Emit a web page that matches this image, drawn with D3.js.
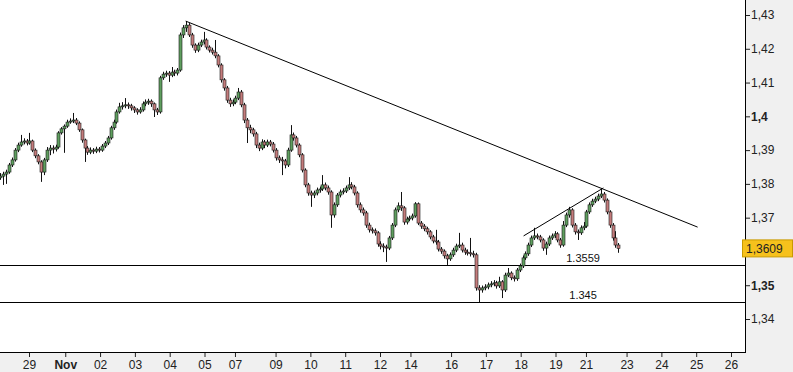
<!DOCTYPE html>
<html>
<head>
<meta charset="utf-8">
<script src="https://cdn.jsdelivr.net/npm/d3@7"></script>
<style>
  body { margin: 0; background: #fff; }
  svg { display: block; font-family: "Liberation Sans", Arial, sans-serif; }
</style>
</head>
<body>
<div id="chart"></div>
<script>
// 2-hour EUR/USD candles, time counted in trading hours (weekends collapsed)
const firstHour = 4
const firstOpen = 1.3818

const closes = [
  1.3823, 1.3829, 1.3835, 1.3856, 1.3871, 1.3900, 1.3915, 1.3924, 1.3927, 1.3921,
  1.3927, 1.3900, 1.3883, 1.3865, 1.3835, 1.3871, 1.3900, 1.3906, 1.3903, 1.3909,
  1.3951, 1.3963, 1.3971, 1.3983, 1.3986, 1.3989, 1.3980, 1.3960, 1.3930, 1.3906,
  1.3894, 1.3900, 1.3897, 1.3903, 1.3900, 1.3912, 1.3921, 1.3936, 1.3966, 1.3983,
  1.4013, 1.4028, 1.4031, 1.4034, 1.4031, 1.4025, 1.4019, 1.4013, 1.4019, 1.4037,
  1.4042, 1.4045, 1.4037, 1.4019, 1.4013, 1.4114, 1.4125, 1.4128, 1.4122, 1.4131,
  1.4128, 1.4137, 1.4241, 1.4262, 1.4270, 1.4241, 1.4211, 1.4196, 1.4211, 1.4220,
  1.4226, 1.4205, 1.4196, 1.4190, 1.4179, 1.4152, 1.4108, 1.4084, 1.4048, 1.4037,
  1.4042, 1.4054, 1.4072, 1.4034, 1.3989, 1.3966, 1.3960, 1.3948, 1.3915, 1.3906,
  1.3924, 1.3915, 1.3924, 1.3918, 1.3900, 1.3877, 1.3871, 1.3868, 1.3856, 1.3900,
  1.3945, 1.3936, 1.3915, 1.3886, 1.3841, 1.3797, 1.3773, 1.3767, 1.3773, 1.3782,
  1.3785, 1.3797, 1.3788, 1.3776, 1.3708, 1.3738, 1.3767, 1.3776, 1.3779, 1.3788,
  1.3797, 1.3791, 1.3773, 1.3738, 1.3723, 1.3714, 1.3678, 1.3664, 1.3661, 1.3655,
  1.3622, 1.3616, 1.3613, 1.3610, 1.3640, 1.3678, 1.3723, 1.3735, 1.3729, 1.3687,
  1.3696, 1.3699, 1.3705, 1.3741, 1.3684, 1.3675, 1.3667, 1.3658, 1.3643, 1.3631,
  1.3628, 1.3607, 1.3601, 1.3587, 1.3578, 1.3590, 1.3604, 1.3616, 1.3619, 1.3604,
  1.3598, 1.3596, 1.3593, 1.3590, 1.3492, 1.3486, 1.3492, 1.3495, 1.3501, 1.3504,
  1.3507, 1.3498, 1.3510, 1.3486, 1.3530, 1.3536, 1.3522, 1.3519, 1.3545, 1.3557,
  1.3581, 1.3593, 1.3619, 1.3640, 1.3646, 1.3643, 1.3634, 1.3610, 1.3622, 1.3640,
  1.3646, 1.3652, 1.3634, 1.3619, 1.3678, 1.3708, 1.3723, 1.3678, 1.3658, 1.3655,
  1.3670, 1.3675, 1.3717, 1.3738, 1.3749, 1.3755, 1.3764, 1.3770, 1.3752, 1.3717,
  1.3678, 1.3640, 1.3619, 1.3609
]

const highs = [
  1.3832, 1.3836, 1.3842, 1.3862, 1.3878, 1.3906, 1.3922, 1.3945, 1.3935, 1.3933,
  1.3951, 1.3931, 1.3905, 1.3888, 1.3870, 1.3877, 1.3909, 1.3915, 1.3914, 1.3916,
  1.3956, 1.3968, 1.3976, 1.3990, 1.3994, 1.4010, 1.3995, 1.3985, 1.3964, 1.3934,
  1.3912, 1.3908, 1.3906, 1.3910, 1.3909, 1.3918, 1.3927, 1.3942, 1.3972, 1.3990,
  1.4020, 1.4040, 1.4042, 1.4054, 1.4041, 1.4037, 1.4030, 1.4024, 1.4027, 1.4044,
  1.4050, 1.4052, 1.4050, 1.4041, 1.4025, 1.4120, 1.4132, 1.4135, 1.4134, 1.4146,
  1.4138, 1.4143, 1.4248, 1.4270, 1.4282, 1.4276, 1.4247, 1.4216, 1.4218, 1.4227,
  1.4250, 1.4231, 1.4210, 1.4203, 1.4226, 1.4184, 1.4157, 1.4113, 1.4090, 1.4055,
  1.4050, 1.4061, 1.4084, 1.4078, 1.4040, 1.3995, 1.3975, 1.3966, 1.3954, 1.3922,
  1.3932, 1.3930, 1.3931, 1.3930, 1.3924, 1.3906, 1.3884, 1.3880, 1.3874, 1.3907,
  1.3974, 1.3952, 1.3942, 1.3920, 1.3891, 1.3846, 1.3803, 1.3780, 1.3780, 1.3789,
  1.3792, 1.3826, 1.3804, 1.3795, 1.3781, 1.3745, 1.3773, 1.3783, 1.3787, 1.3795,
  1.3820, 1.3805, 1.3797, 1.3778, 1.3745, 1.3730, 1.3720, 1.3685, 1.3671, 1.3668,
  1.3660, 1.3630, 1.3624, 1.3620, 1.3646, 1.3684, 1.3730, 1.3745, 1.3776, 1.3734,
  1.3703, 1.3706, 1.3712, 1.3746, 1.3745, 1.3690, 1.3681, 1.3673, 1.3663, 1.3649,
  1.3664, 1.3634, 1.3613, 1.3606, 1.3593, 1.3597, 1.3611, 1.3623, 1.3655, 1.3626,
  1.3611, 1.3606, 1.3640, 1.3602, 1.3596, 1.3500, 1.3499, 1.3503, 1.3508, 1.3512,
  1.3515, 1.3513, 1.3525, 1.3515, 1.3537, 1.3551, 1.3541, 1.3529, 1.3551, 1.3564,
  1.3588, 1.3600, 1.3626, 1.3647, 1.3670, 1.3653, 1.3649, 1.3639, 1.3629, 1.3647,
  1.3653, 1.3660, 1.3657, 1.3640, 1.3690, 1.3715, 1.3732, 1.3728, 1.3684, 1.3665,
  1.3677, 1.3687, 1.3723, 1.3745, 1.3756, 1.3762, 1.3771, 1.3788, 1.3776, 1.3757,
  1.3722, 1.3684, 1.3660, 1.3625
]

const lows = [
  1.3812, 1.3797, 1.3800, 1.3830, 1.3850, 1.3866, 1.3894, 1.3910, 1.3917, 1.3914,
  1.3916, 1.3894, 1.3876, 1.3858, 1.3806, 1.3826, 1.3865, 1.3885, 1.3890, 1.3896,
  1.3904, 1.3946, 1.3892, 1.3966, 1.3978, 1.3980, 1.3974, 1.3954, 1.3922, 1.3865,
  1.3886, 1.3888, 1.3889, 1.3891, 1.3893, 1.3895, 1.3906, 1.3915, 1.3931, 1.3960,
  1.3978, 1.4008, 1.4020, 1.4024, 1.4022, 1.4017, 1.4010, 1.4005, 1.4008, 1.4014,
  1.4030, 1.4034, 1.4028, 1.3998, 1.4004, 1.4008, 1.4108, 1.4117, 1.4102, 1.4116,
  1.4119, 1.4121, 1.4132, 1.4232, 1.4250, 1.4235, 1.4203, 1.4188, 1.4190, 1.4205,
  1.4213, 1.4198, 1.4189, 1.4183, 1.4172, 1.4145, 1.4100, 1.4076, 1.4040, 1.4028,
  1.4030, 1.4036, 1.4048, 1.4027, 1.3980, 1.3921, 1.3950, 1.3940, 1.3906, 1.3897,
  1.3900, 1.3906, 1.3909, 1.3911, 1.3893, 1.3869, 1.3862, 1.3826, 1.3846, 1.3850,
  1.3895, 1.3928, 1.3908, 1.3879, 1.3834, 1.3790, 1.3765, 1.3732, 1.3758, 1.3766,
  1.3774, 1.3779, 1.3781, 1.3768, 1.3670, 1.3700, 1.3732, 1.3760, 1.3769, 1.3773,
  1.3782, 1.3784, 1.3766, 1.3730, 1.3715, 1.3706, 1.3670, 1.3656, 1.3653, 1.3647,
  1.3614, 1.3606, 1.3598, 1.3569, 1.3604, 1.3634, 1.3672, 1.3716, 1.3720, 1.3679,
  1.3680, 1.3690, 1.3692, 1.3700, 1.3678, 1.3667, 1.3660, 1.3650, 1.3636, 1.3624,
  1.3620, 1.3600, 1.3593, 1.3579, 1.3560, 1.3572, 1.3584, 1.3598, 1.3610, 1.3597,
  1.3590, 1.3588, 1.3585, 1.3582, 1.3484, 1.3450, 1.3478, 1.3485, 1.3488, 1.3494,
  1.3497, 1.3490, 1.3492, 1.3462, 1.3480, 1.3524, 1.3515, 1.3511, 1.3513, 1.3539,
  1.3551, 1.3575, 1.3587, 1.3613, 1.3634, 1.3636, 1.3627, 1.3602, 1.3590, 1.3616,
  1.3634, 1.3640, 1.3627, 1.3611, 1.3614, 1.3672, 1.3700, 1.3671, 1.3650, 1.3634,
  1.3649, 1.3663, 1.3670, 1.3711, 1.3732, 1.3743, 1.3749, 1.3758, 1.3745, 1.3710,
  1.3670, 1.3632, 1.3611, 1.3596
]

// day labels and the trading hour at which each day starts
const dayLabels = ['29', 'Nov', '02', '03', '04', '05', '07', '09', '10', '11', '12',
  '14', '16', '17', '18', '19', '21', '23', '24', '25', '26']
const dayHours = [24, 49, 73, 97, 121, 145, 166, 194, 218, 242, 266,
  287, 315, 339, 363, 387, 408, 436, 460, 484, 508]
const boldDays = ['Nov']

const priceTicks = [1.34, 1.35, 1.37, 1.38, 1.39, 1.4, 1.41, 1.42, 1.43]
const boldPrices = [1.35, 1.4]

// drawn annotations
const trendLines = [
  { t0: 132, p0: 1.4282, t1: 485, p1: 1.3672 },
  { t0: 365, p0: 1.3646, t1: 420, p1: 1.3788 }
]
const levels = [1.3559, 1.345]
const levelLabels = ['1.3559', '1.345']
const levelLabelHour = 406

const W = 793
const H = 372
const plotR = 745
const plotB = 352

const svg = d3.select('#chart').append('svg')
  .attr('width', W)
  .attr('height', H)

svg.append('rect').attr('width', W).attr('height', H).attr('fill', '#f0f0f0')
svg.append('rect').attr('width', plotR).attr('height', plotB).attr('fill', '#fff')

svg.append('clipPath').attr('id', 'plot')
  .append('rect').attr('width', plotR).attr('height', plotB)

const x = d3.scaleLinear().domain([24, 508]).range([29, 731])
const y = d3.scaleLinear().domain([1.34, 1.43]).range([319, 15])
const comma = v => String(v).replace('.', ',')

const candles = closes.map((c, i) => ({
  t: firstHour + 2 * i + 1,
  o: i ? closes[i - 1] : firstOpen,
  h: highs[i],
  l: lows[i],
  c
}))

const plot = svg.append('g').attr('clip-path', 'url(#plot)')

// level lines
plot.selectAll('line.level')
  .data(levels)
  .join('line')
  .attr('class', 'level')
  .attr('x1', 0)
  .attr('x2', plotR)
  .attr('y1', d => Math.round(y(d)) + 0.5)
  .attr('y2', d => Math.round(y(d)) + 0.5)
  .attr('stroke', '#000')
  .attr('stroke-width', 1)

plot.selectAll('text.level')
  .data(levels)
  .join('text')
  .attr('class', 'level')
  .attr('x', x(levelLabelHour))
  .attr('y', d => y(d) - 3)
  .attr('text-anchor', 'middle')
  .attr('font-size', 11)
  .attr('fill', '#111')
  .text((d, i) => levelLabels[i])

// candles
const cx = d => Math.round(x(d.t))

plot.selectAll('line.wick')
  .data(candles)
  .join('line')
  .attr('class', 'wick')
  .attr('x1', d => cx(d) - 0.5)
  .attr('x2', d => cx(d) - 0.5)
  .attr('y1', d => y(d.h))
  .attr('y2', d => y(d.l))
  .attr('stroke', '#111')
  .attr('stroke-width', 1)

plot.selectAll('rect.body')
  .data(candles)
  .join('rect')
  .attr('class', 'body')
  .attr('x', d => cx(d) - 2)
  .attr('width', 3)
  .attr('y', d => y(Math.max(d.o, d.c)))
  .attr('height', d => Math.max(1, Math.abs(y(d.o) - y(d.c))))
  .attr('fill', d => d.c >= d.o ? '#5f9e5f' : '#c47c7c')
  .attr('stroke', '#1a1a1a')
  .attr('stroke-width', 0.6)

// trend lines
plot.selectAll('line.trend')
  .data(trendLines)
  .join('line')
  .attr('class', 'trend')
  .attr('x1', d => x(d.t0))
  .attr('y1', d => y(d.p0))
  .attr('x2', d => x(d.t1))
  .attr('y2', d => y(d.p1))
  .attr('stroke', '#000')
  .attr('stroke-width', 1)

// frame
svg.append('line')
  .attr('x1', plotR + 0.5).attr('x2', plotR + 0.5)
  .attr('y1', 0).attr('y2', plotB + 1)
  .attr('stroke', '#000')
svg.append('line')
  .attr('x1', 0).attr('x2', plotR + 1)
  .attr('y1', plotB + 0.5).attr('y2', plotB + 0.5)
  .attr('stroke', '#000')

// axes
svg.append('g')
  .attr('transform', `translate(${plotR + 1},0)`)
  .call(d3.axisRight(y).tickValues(priceTicks).tickSize(4).tickPadding(1).tickFormat(comma))
  .call(g => g.select('.domain').remove())
  .call(g => g.selectAll('line').attr('stroke', '#222'))
  .call(g => g.selectAll('text')
    .attr('font-size', 12)
    .attr('font-family', '"Liberation Sans", Arial, sans-serif')
    .attr('fill', '#222')
    .attr('font-weight', d => boldPrices.includes(d) ? 'bold' : 'normal'))

svg.append('g')
  .attr('transform', `translate(0,${plotB + 1})`)
  .call(d3.axisBottom(x).tickValues(dayHours).tickSize(4).tickPadding(3)
    .tickFormat((d, i) => dayLabels[i]))
  .call(g => g.select('.domain').remove())
  .call(g => g.selectAll('line').attr('stroke', '#222'))
  .call(g => g.selectAll('text')
    .attr('font-size', 12)
    .attr('font-family', '"Liberation Sans", Arial, sans-serif')
    .attr('fill', '#222')
    .attr('font-weight', (d, i) => boldDays.includes(dayLabels[i]) ? 'bold' : 'normal'))

// last price tag
const last = closes[closes.length - 1]
const tag = svg.append('g').attr('transform', `translate(${plotR - 3},${y(last)})`)
tag.append('rect')
  .attr('x', 0.5).attr('y', -8.5)
  .attr('width', W - plotR + 2).attr('height', 17)
  .attr('fill', '#f6c11c')
  .attr('stroke', '#c99a00')
tag.append('text')
  .attr('x', 4).attr('y', 4.5)
  .attr('font-size', 12)
  .attr('fill', '#222')
  .text(comma(last))
</script>
</body>
</html>
